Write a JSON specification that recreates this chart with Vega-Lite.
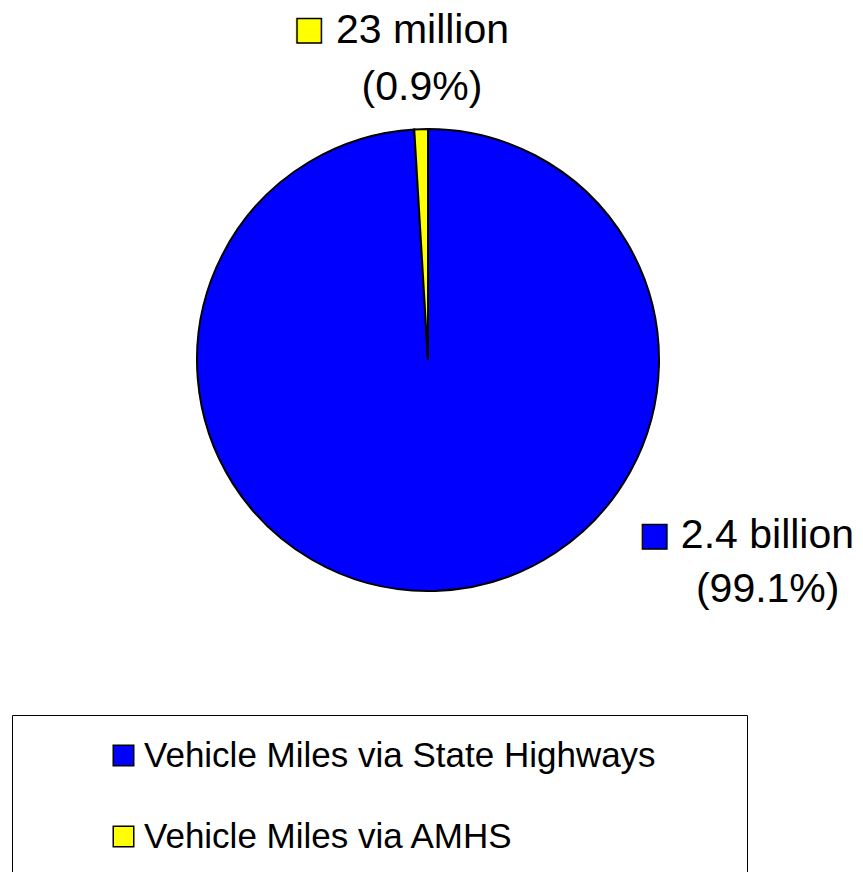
{
  "$schema": "https://vega.github.io/schema/vega-lite/v6.json",
  "description": "Vehicle miles via state highways vs AMHS, pie chart.",
  "width": 856,
  "height": 720,
  "autosize": {"type": "none"},
  "padding": {"left": 0, "top": 0, "right": 7, "bottom": 152},
  "background": "white",
  "data": {
    "values": [
      {"category": "Vehicle Miles via State Highways", "miles": 2400, "amount": "2.4 billion", "share": "(99.1%)", "idx": 1},
      {"category": "Vehicle Miles via AMHS", "miles": 23, "amount": "23 million", "share": "(0.9%)", "idx": 2}
    ]
  },
  "encoding": {
    "color": {
      "field": "category",
      "type": "nominal",
      "scale": {
        "domain": ["Vehicle Miles via State Highways", "Vehicle Miles via AMHS"],
        "range": ["#0000FF", "#FFFF00"]
      },
      "legend": {
        "title": null,
        "orient": "none",
        "legendX": 12,
        "legendY": 715,
        "direction": "vertical",
        "symbolType": "square",
        "symbolSize": 420,
        "symbolStrokeColor": "black",
        "symbolStrokeWidth": 1.5,
        "symbolOffset": 71,
        "labelOffset": 3,
        "labelFont": "Liberation Sans",
        "labelFontSize": 35,
        "labelColor": "black",
        "labelLimit": 1000,
        "rowPadding": 45,
        "padding": 23,
        "strokeColor": "black",
        "fillColor": "white",
        "labelExpr": "datum.label + '\u00a0\u00a0\u00a0\u00a0\u00a0\u00a0\u00a0\u200b'"
      }
    }
  },
  "layer": [
    {
      "mark": {"type": "arc", "outerRadius": 231, "stroke": "black", "strokeWidth": 2},
      "encoding": {
        "theta": {"field": "miles", "type": "quantitative", "stack": true},
        "order": {"field": "idx", "type": "quantitative"}
      }
    },
    {
      "transform": [{"filter": "datum.idx == 2"}],
      "mark": {"type": "text", "theta": 6.2658, "radius": 317, "font": "Liberation Sans", "fontSize": 41, "align": "center", "baseline": "alphabetic"},
      "encoding": {"text": {"field": "amount"}, "color": {"value": "black"}}
    },
    {
      "transform": [{"filter": "datum.idx == 2"}],
      "mark": {"type": "text", "theta": 6.2601, "radius": 260, "font": "Liberation Sans", "fontSize": 41, "align": "center", "baseline": "alphabetic"},
      "encoding": {"text": {"field": "share"}, "color": {"value": "black"}}
    },
    {
      "transform": [{"filter": "datum.idx == 2"}],
      "mark": {"type": "text", "text": "■", "theta": 5.938, "radius": 351.7, "font": "DejaVu Sans", "fontSize": 32, "align": "center", "baseline": "middle", "stroke": "black", "strokeWidth": 1.5},
      "encoding": {"color": {"field": "category", "type": "nominal"}}
    },
    {
      "transform": [{"filter": "datum.idx == 1"}],
      "mark": {"type": "text", "theta": 2.0764, "radius": 388, "font": "Liberation Sans", "fontSize": 41, "align": "center", "baseline": "alphabetic"},
      "encoding": {"text": {"field": "amount"}, "color": {"value": "black"}}
    },
    {
      "transform": [{"filter": "datum.idx == 1"}],
      "mark": {"type": "text", "theta": 2.1895, "radius": 417, "font": "Liberation Sans", "fontSize": 41, "align": "center", "baseline": "alphabetic"},
      "encoding": {"text": {"field": "share"}, "color": {"value": "black"}}
    },
    {
      "transform": [{"filter": "datum.idx == 1"}],
      "mark": {"type": "text", "text": "■", "theta": 2.2285, "radius": 286.2, "font": "DejaVu Sans", "fontSize": 32, "align": "center", "baseline": "middle", "stroke": "black", "strokeWidth": 1.5},
      "encoding": {"color": {"field": "category", "type": "nominal"}}
    }
  ],
  "config": {"view": {"stroke": null}}
}
